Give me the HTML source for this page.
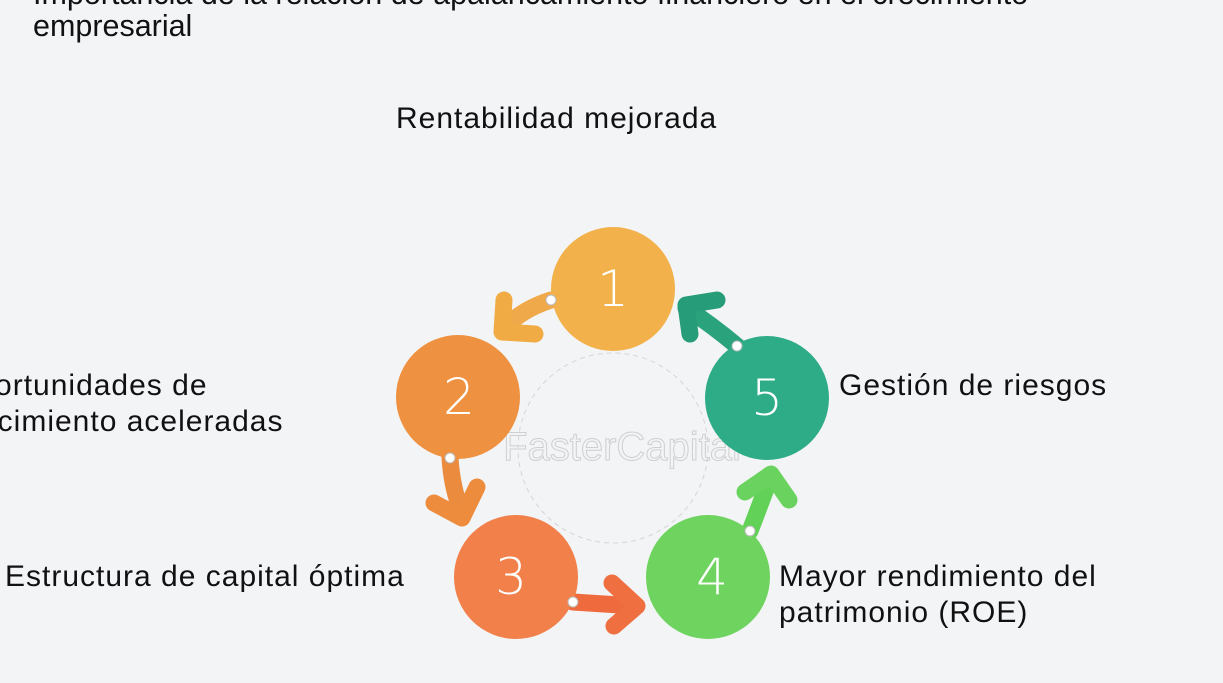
<!DOCTYPE html>
<html><head><meta charset="utf-8"><style>
body{margin:0;width:1223px;height:683px;background:#f3f4f6;overflow:hidden;position:relative;font-family:"Liberation Sans",sans-serif}
.t{position:absolute;color:#111;font-size:30px;letter-spacing:1px;white-space:nowrap;line-height:36px}
.h{position:absolute;left:33px;font-size:30.5px;color:#111;line-height:32px;white-space:nowrap}
</style></head><body>
<div class="h" style="top:-22px">Importancia de la relación de apalancamiento financiero en el crecimiento</div>
<div class="h" style="top:10px">empresarial</div>
<svg width="1223" height="683" style="position:absolute;left:0;top:0">
<circle cx="613" cy="448" r="95" fill="none" stroke="#d5d5d5" stroke-dasharray="5 4"/>
<text x="622" y="460" font-family="Liberation Sans" font-size="40" fill="none" stroke="#cfcfcf" text-anchor="middle">FasterCapital</text>
<g stroke-linecap="round" stroke-linejoin="round" fill="none" stroke-width="17">
<path d="M551 300 Q520 310 503 330" stroke="#f0a94a"/>
<path d="M504 300 L502 332 L535 334" stroke="#f1ab45"/>
<path d="M450 458 Q452 490 463 515" stroke="#ea8b3e"/>
<path d="M434 503 L462 518 L477 487" stroke="#ee8c3e"/>
<path d="M573 602 Q605 604 635 606" stroke="#ef6a3c"/>
<path d="M612 583 L637 606 L614 626" stroke="#ef6f40"/>
<path d="M750 531 Q760 505 770 478" stroke="#62d157"/>
<path d="M745 492 L771 474 L789 500" stroke="#6ad25e"/>
<path d="M737 346 Q712 325 686 308" stroke="#2aa37c"/>
<path d="M690 334 L686 305 L717 300" stroke="#269d78"/>
</g>
<circle cx="613" cy="289" r="62" fill="#f2b14a"/>
<circle cx="458" cy="397" r="62" fill="#ee9241"/>
<circle cx="516" cy="577" r="62" fill="#f1804b"/>
<circle cx="708" cy="577" r="62" fill="#6fd35f"/>
<circle cx="767" cy="398" r="62" fill="#2eac87"/>
<g fill="#fff" stroke="#bbb" stroke-width="1">
<circle cx="551" cy="300" r="5"/><circle cx="450" cy="458" r="5"/><circle cx="573" cy="602" r="5"/><circle cx="750" cy="531" r="5"/><circle cx="737" cy="346" r="5"/>
</g>
<g fill="#fff" font-family="DejaVu Sans,Liberation Sans" font-size="50" text-anchor="middle" font-weight="300">
<text x="613" y="306">1</text><text x="459" y="414">2</text><text x="511" y="594">3</text><text x="712" y="594">4</text><text x="767" y="415">5</text>
</g>
</svg>
<div class="t" style="left:396px;top:101px">Rentabilidad mejorada</div>
<div class="t" style="left:-47px;top:368px">Oportunidades de</div>
<div class="t" style="left:-47px;top:404px">crecimiento aceleradas</div>
<div class="t" style="left:5px;top:559px">Estructura de capital óptima</div>
<div class="t" style="left:839px;top:368px">Gestión de riesgos</div>
<div class="t" style="left:779px;top:559px">Mayor rendimiento del</div>
<div class="t" style="left:779px;top:595px">patrimonio (ROE)</div>
</body></html>
